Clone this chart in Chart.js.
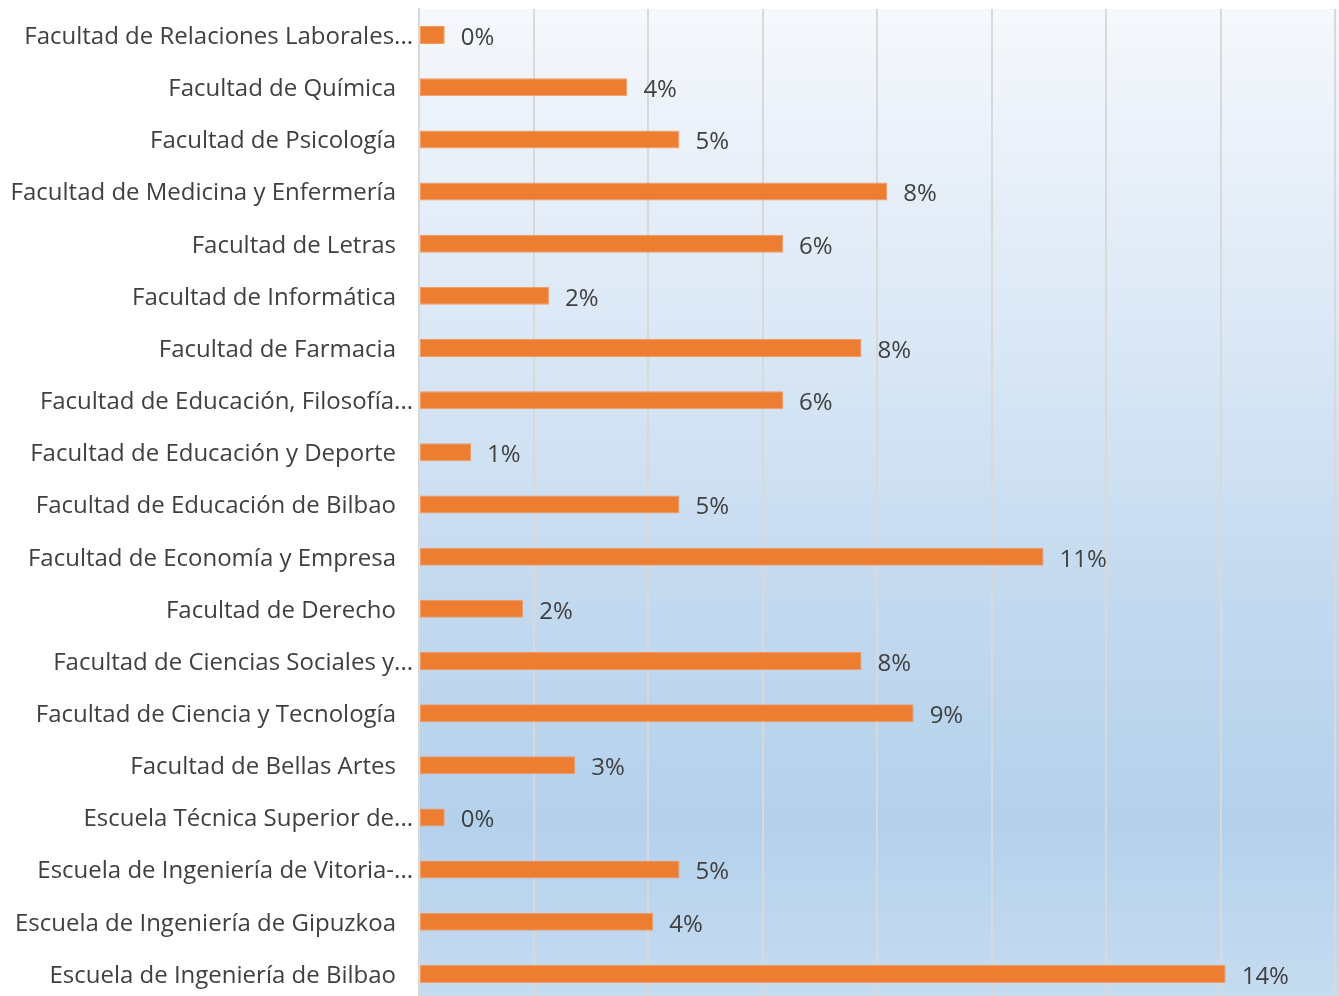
<!DOCTYPE html>
<html>
<head>
<meta charset="utf-8">
<script src="https://cdn.jsdelivr.net/npm/chart.js@4"></script>
<style>
  html, body { margin: 0; padding: 0; background: #fff; overflow: hidden; }
  #wrap { width: 1339px; height: 1000px; }
</style>
</head>
<body>
<div id="wrap"><canvas id="faculty-canvas"></canvas></div>
<script>
/* Share per faculty (%) */
const faculties = [
  'Facultad de Relaciones Laborales...',
  'Facultad de Química',
  'Facultad de Psicología',
  'Facultad de Medicina y Enfermería',
  'Facultad de Letras',
  'Facultad de Informática',
  'Facultad de Farmacia',
  'Facultad de Educación, Filosofía...',
  'Facultad de Educación y Deporte',
  'Facultad de Educación de Bilbao',
  'Facultad de Economía y Empresa',
  'Facultad de Derecho',
  'Facultad de Ciencias Sociales y...',
  'Facultad de Ciencia y Tecnología',
  'Facultad de Bellas Artes',
  'Escuela Técnica Superior de...',
  'Escuela de Ingeniería de Vitoria-...',
  'Escuela de Ingeniería de Gipuzkoa',
  'Escuela de Ingeniería de Bilbao'
];
const shares = [0.45, 3.64, 4.55, 8.18, 6.36, 2.27, 7.73, 6.36, 0.91, 4.55,
                10.91, 1.82, 7.73, 8.64, 2.73, 0.45, 4.55, 4.09, 14.09];
const axisMax = 16;
const axisStep = 2;

const FONT = '24px "Open Sans"';
const TEXT = '#404040';

// plot area background (light blue gradient)
const backdrop = {
  id: 'backdrop',
  beforeDraw: function(chart){
    const a = chart.chartArea, c = chart.ctx;
    const g = c.createLinearGradient(0, a.top, 0, a.bottom);
    g.addColorStop(0, '#f5f8fc');
    g.addColorStop(0.3, '#dde9f6');
    g.addColorStop(0.6, '#c3d9ef');
    g.addColorStop(0.82, '#b4d1ec');
    g.addColorStop(1, '#c6dcf0');
    c.save();
    c.fillStyle = g;
    c.fillRect(a.left, a.top, a.right - a.left + 4, a.bottom - a.top);
    c.restore();
  }
};

// category names + value labels
const texts = {
  id: 'texts',
  afterDatasetsDraw: function(chart){
    const c = chart.ctx, a = chart.chartArea;
    const yAxis = chart.scales.y;
    c.save();
    c.font = FONT;
    c.fillStyle = TEXT;
    c.textBaseline = 'middle';
    c.textAlign = 'right';
    faculties.forEach(function(name, i){
      const y = yAxis.getPixelForTick(i) + 2;
      const cut = name.endsWith('...');
      c.fillText(name, a.left - (cut ? 6 : 23), y);
    });
    c.textAlign = 'left';
    chart.getDatasetMeta(0).data.forEach(function(bar, i){
      c.fillText(Math.round(shares[i]) + '%', bar.x + 16, bar.y + 3);
    });
    c.restore();
  }
};

new Chart(document.getElementById('faculty-canvas'), {
  type: 'bar',
  plugins: [backdrop, texts],
  data: {
    labels: faculties,
    datasets: [{
      data: shares,
      backgroundColor: '#ed7d31',
      borderColor: '#f29a62',
      borderWidth: 1,
      borderSkipped: false,
      categoryPercentage: 1,
      barPercentage: 0.345
    }]
  },
  options: {
    indexAxis: 'y',
    responsive: true,
    maintainAspectRatio: false,
    animation: false,
    events: [],
    layout: { padding: { top: 9, right: 4, left: 0, bottom: 0 } },
    plugins: { legend: false, tooltip: { enabled: false }, title: { display: false } },
    scales: {
      x: {
        min: 0,
        max: axisMax,
        ticks: { display: false, stepSize: axisStep },
        grid: { color: '#d9d9d9', lineWidth: 2, drawTicks: false },
        border: { display: false }
      },
      y: {
        afterFit: function(scale){ scale.width = 419; },
        ticks: { display: false },
        grid: { display: false, drawTicks: false },
        border: { color: '#d9d9d9', width: 2 }
      }
    }
  }
});
</script>
</body>
</html>
